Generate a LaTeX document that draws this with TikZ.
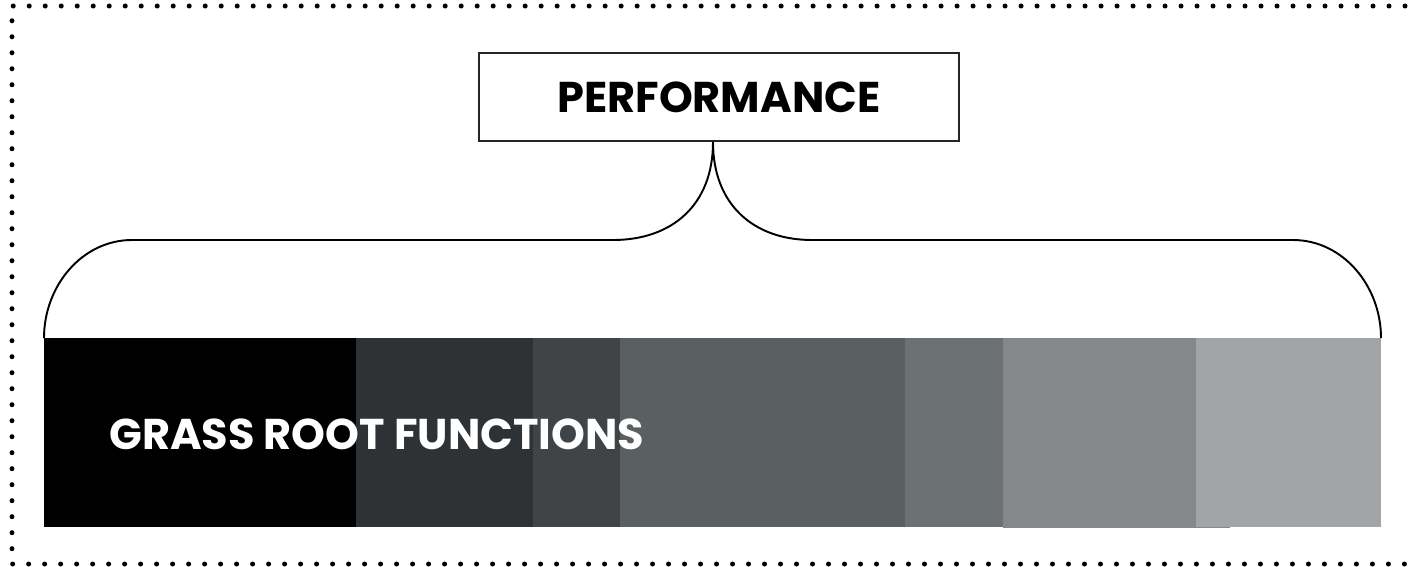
\documentclass[tikz,border=0pt]{standalone}
\usepackage{fontspec}
\setmainfont{Poppins}
\definecolor{shadeA}{HTML}{000000}
\definecolor{shadeB}{HTML}{2E3235}
\definecolor{shadeC}{HTML}{404447}
\definecolor{shadeD}{HTML}{5A5F60}
\definecolor{shadeE}{HTML}{6C7272}
\definecolor{shadeF}{HTML}{868789}
\definecolor{shadeG}{HTML}{A1A5A6}
\begin{document}
\begin{tikzpicture}
[x=0.02cm,y=-0.02cm,%
  dotBorder/.style={line width=0.1cm,line cap=round,dash pattern=on 0pt off 0.32cm},%
  braceDecorate/.style={line width=1.1pt},%
  boxDecorate/.style={draw=black!85,line width=0.75pt,minimum width=9.6cm,minimum height=1.76cm,inner sep=0pt},%
  labelDecorate/.style={font=\fontsize{24.5}{30}\selectfont\bfseries}]
\useasboundingbox (0,0) rectangle (1409,566);
%% border
\draw[dotBorder] (1405,6) -- (12,6) -- (12,564) -- (1405,564);
%% bars
\foreach \shade/\xa/\xb/\yb in {
  shadeA/44/356/527, shadeB/356/533/527, shadeC/533/620/527,
  shadeD/620/905/527, shadeE/905/1004/527, shadeF/1003/1230/528,
  shadeG/1196/1381/527}
{
  \fill[\shade] (\xa,338) rectangle (\xb,\yb);
}
\node[labelDecorate,text=white,anchor=base west] (grass) at (103,449) {GRASS ROOT FUNCTIONS};
%% top box
\node[boxDecorate,labelDecorate] (perf) at (719,97) {PERFORMANCE};
%% brace
\coordinate (barL) at (44,338);
\coordinate (barR) at (1381,338);
\draw[braceDecorate] (barL) .. controls (44,286) and (82,240) .. (132,240)
  -- (613,240) .. controls (672,240) and (713,205) .. (713,142)
  .. controls (713,205) and (754,240) .. (812,240)
  -- (1293,240) .. controls (1343,240) and (1381,286) .. (barR);
\end{tikzpicture}
\end{document}
